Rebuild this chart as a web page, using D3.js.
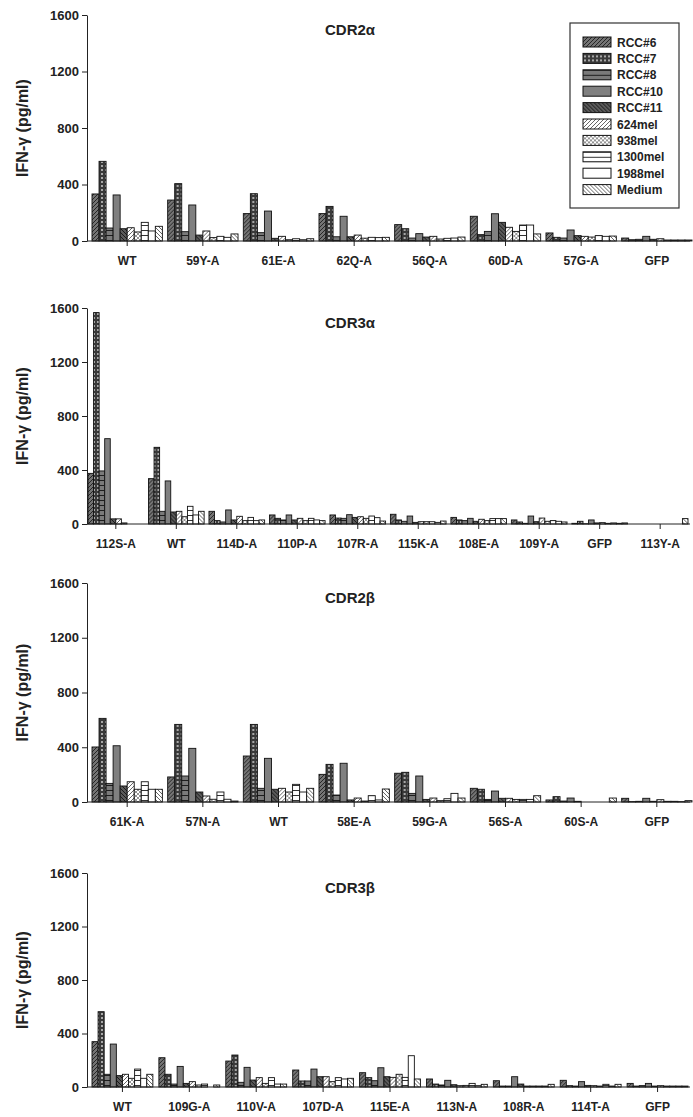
<!DOCTYPE html>
<html>
<head>
<meta charset="utf-8">
<script src="https://cdn.jsdelivr.net/npm/d3@7"></script>
<style>
  body { margin: 0; background: #fff; }
  text { font-family: Arial, "Liberation Sans", sans-serif; fill: #222; }
</style>
</head>
<body>
<div id="chart"></div>
<script>
// cell lines (series), same order in every group
const cellLines = ["RCC#6", "RCC#7", "RCC#8", "RCC#10", "RCC#11", "624mel", "938mel", "1300mel", "1988mel", "Medium"]
const yTicks = [0, 400, 800, 1200, 1600]

// CDR2α
const cdr2aCats = ["WT", "59Y-A", "61E-A", "62Q-A", "56Q-A", "60D-A", "57G-A", "GFP"]
const cdr2aValues = [
  [333, 564, 92, 326, 87, 94, 64, 132, 71, 104],
  [290, 406, 66, 255, 42, 71, 24, 33, 26, 50],
  [194, 335, 59, 212, 19, 33, 9, 16, 9, 16],
  [194, 245, 30, 175, 30, 42, 20, 26, 24, 26],
  [116, 87, 21, 52, 28, 33, 14, 19, 21, 28],
  [175, 45, 68, 193, 132, 97, 68, 113, 113, 50],
  [57, 26, 21, 78, 38, 33, 28, 38, 33, 35],
  [21, 9, 12, 33, 12, 16, 7, 7, 7, 7]
]

// CDR3α
const cdr3aCats = ["112S-A", "WT", "114D-A", "110P-A", "107R-A", "115K-A", "108E-A", "109Y-A", "GFP", "113Y-A"]
const cdr3aValues = [
  [375, 1566, 393, 632, 38, 38, 8, 0, 0, 0],
  [336, 568, 94, 319, 89, 94, 54, 131, 67, 94],
  [94, 25, 15, 104, 30, 57, 25, 49, 25, 30],
  [67, 42, 30, 67, 30, 42, 25, 42, 30, 25],
  [67, 44, 42, 69, 49, 54, 42, 59, 47, 22],
  [72, 30, 20, 59, 12, 17, 17, 17, 12, 22],
  [49, 30, 25, 42, 20, 35, 25, 40, 40, 40],
  [30, 15, 5, 59, 17, 44, 20, 25, 20, 15],
  [5, 20, 2, 30, 8, 10, 5, 8, 5, 8],
  [0, 0, 0, 0, 0, 0, 0, 0, 0, 40]
]

// CDR2β
const cdr2bCats = ["61K-A", "57N-A", "WT", "58E-A", "59G-A", "56S-A", "60S-A", "GFP"]
const cdr2bValues = [
  [402, 611, 136, 411, 117, 148, 93, 148, 93, 93],
  [183, 567, 190, 392, 73, 44, 20, 73, 20, 7],
  [336, 567, 100, 319, 93, 100, 73, 129, 73, 100],
  [202, 275, 51, 283, 15, 29, 7, 46, 15, 95],
  [210, 217, 63, 190, 19, 29, 10, 24, 63, 29],
  [100, 93, 19, 80, 27, 27, 19, 19, 19, 46],
  [15, 39, 7, 29, 5, 0, 0, 0, 0, 29],
  [27, 3, 5, 27, 5, 17, 5, 5, 3, 10]
]

// CDR3β
const cdr3bCats = ["WT", "109G-A", "110V-A", "107D-A", "115E-A", "113N-A", "108R-A", "114T-A", "GFP"]
const cdr3bValues = [
  [339, 563, 95, 321, 85, 95, 65, 134, 65, 95],
  [219, 95, 22, 154, 27, 40, 15, 22, 0, 15],
  [194, 239, 35, 147, 52, 70, 27, 70, 22, 22],
  [127, 45, 45, 134, 77, 77, 40, 70, 60, 65],
  [107, 70, 47, 144, 77, 72, 95, 72, 234, 60],
  [60, 22, 15, 50, 17, 10, 12, 27, 10, 20],
  [47, 7, 7, 77, 22, 7, 7, 7, 7, 20],
  [50, 10, 7, 40, 12, 10, 7, 20, 7, 20],
  [27, 7, 10, 27, 7, 10, 7, 7, 7, 7]
]

const WIDTH = 693, HEIGHT = 1117
const AXIS_LEFT = 87, AXIS_RIGHT = 690

const panels = [
  { title: "CDR2α", cats: cdr2aCats, values: cdr2aValues, top: 15, bottom: 241, range: [92, 692], pad: 0.07 },
  { title: "CDR3α", cats: cdr3aCats, values: cdr3aValues, top: 308, bottom: 524, range: [88, 688], pad: 0.08 },
  { title: "CDR2β", cats: cdr2bCats, values: cdr2bValues, top: 583, bottom: 802, range: [92, 692], pad: 0.07 },
  { title: "CDR3β", cats: cdr3bCats, values: cdr3bValues, top: 873, bottom: 1087, range: [92, 688], pad: 0.09 }
]

const svg = d3.select("#chart")
  .append("svg")
    .attr("width", WIDTH)
    .attr("height", HEIGHT)

// fill patterns, one per cell line
const defs = svg.append("defs")
function pattern(id, w, h, bg) {
  const p = defs.append("pattern")
    .attr("id", id)
    .attr("patternUnits", "userSpaceOnUse")
    .attr("width", w)
    .attr("height", h)
  p.append("rect").attr("width", w).attr("height", h).attr("fill", bg)
  return p
}
const fwd = "M-1,1 L1,-1 M0,4 L4,0 M3,5 L5,3"
const back = "M-1,3 L1,5 M0,0 L4,4 M3,-1 L5,1"

pattern("p0", 4, 4, "#747474").append("path").attr("d", fwd).attr("stroke", "#262626").attr("stroke-width", 1)
const p1 = pattern("p1", 4, 4, "#3a3a3a")
p1.append("rect").attr("x", 1).attr("y", 1).attr("width", 2).attr("height", 2).attr("fill", "#a8a8a8")
pattern("p2", 4, 5, "#7a7a7a").append("path").attr("d", "M0,0.5 L4,0.5").attr("stroke", "#1e1e1e").attr("stroke-width", 1)
pattern("p3", 4, 4, "#808080")
pattern("p4", 4, 4, "#5a5a5a").append("path").attr("d", back).attr("stroke", "#1a1a1a").attr("stroke-width", 1)
pattern("p5", 4, 4, "#ffffff").append("path").attr("d", fwd).attr("stroke", "#555").attr("stroke-width", 0.9)
const p6 = pattern("p6", 4, 4, "#ffffff")
p6.append("path").attr("d", fwd).attr("stroke", "#777").attr("stroke-width", 0.8)
p6.append("path").attr("d", back).attr("stroke", "#777").attr("stroke-width", 0.8)
pattern("p7", 4, 5, "#ffffff").append("path").attr("d", "M0,0.5 L4,0.5").attr("stroke", "#333").attr("stroke-width", 1)
pattern("p8", 4, 4, "#ffffff")
pattern("p9", 4, 4, "#ffffff").append("path").attr("d", back).attr("stroke", "#555").attr("stroke-width", 0.9)

const fillFor = i => `url(#p${i})`

panels.forEach(panel => {
  const g = svg.append("g")

  const y = d3.scaleLinear()
    .domain([0, 1600])
    .range([panel.bottom, panel.top])

  const x0 = d3.scaleBand()
    .domain(panel.cats)
    .range(panel.range)
    .paddingInner(panel.pad)
    .paddingOuter(0)

  const x1 = d3.scaleBand()
    .domain(cellLines)
    .range([0, x0.bandwidth()])

  // bars
  const groups = g.selectAll("g.group")
    .data(panel.cats.map((c, i) => ({ cat: c, vals: panel.values[i] })))
    .enter()
    .append("g")
      .attr("class", "group")
      .attr("transform", d => `translate(${x0(d.cat)},0)`)

  groups.selectAll("rect")
    .data(d => d.vals.map((v, i) => ({ line: cellLines[i], i, v })))
    .enter()
    .append("rect")
      .attr("x", d => x1(d.line))
      .attr("y", d => y(d.v))
      .attr("width", x1.bandwidth())
      .attr("height", d => y(0) - y(d.v))
      .attr("fill", d => fillFor(d.i))
      .attr("stroke", "#111")
      .attr("stroke-width", 0.9)

  // y axis
  const yAxisCall = d3.axisLeft(y)
    .tickValues(yTicks)
    .tickFormat(d3.format("d"))
    .tickSize(5)
    .tickSizeOuter(0)
    .tickPadding(3)
  const yAxis = g.append("g")
    .attr("transform", `translate(${AXIS_LEFT},0)`)
    .call(yAxisCall)
  yAxis.selectAll("text")
    .attr("font-size", 13)
    .attr("font-weight", "bold")
    .attr("fill", "#333")
  yAxis.selectAll("line, path").attr("stroke", "#222")

  // x axis
  const xAxisCall = d3.axisBottom(x0).tickSize(5).tickSizeOuter(0).tickPadding(10)
  const xAxis = g.append("g")
    .attr("transform", `translate(0,${panel.bottom})`)
    .call(xAxisCall)
  xAxis.select(".domain").remove()
  xAxis.append("line")
    .attr("x1", AXIS_LEFT)
    .attr("x2", AXIS_RIGHT)
    .attr("stroke", "#222")
  xAxis.selectAll("line").attr("stroke", "#222")
  xAxis.selectAll("text")
    .attr("font-size", 12)
    .attr("font-weight", "bold")
    .attr("fill", "#333")

  // title
  g.append("text")
    .attr("x", 350)
    .attr("y", panel.top + 20)
    .attr("text-anchor", "middle")
    .attr("font-size", 15)
    .attr("font-weight", "bold")
    .text(panel.title)

  // y label
  g.append("text")
    .attr("transform", `translate(28,${(panel.top + panel.bottom) / 2}) rotate(-90)`)
    .attr("text-anchor", "middle")
    .attr("font-size", 16)
    .attr("font-weight", "bold")
    .text("IFN-γ (pg/ml)")
})

// legend (top panel)
const legend = svg.append("g")
legend.append("rect")
  .attr("x", 570)
  .attr("y", 23)
  .attr("width", 109)
  .attr("height", 185)
  .attr("fill", "#fff")
  .attr("stroke", "#333")
  .attr("stroke-width", 1.2)

const rows = legend.selectAll("g.row")
  .data(cellLines)
  .enter()
  .append("g")
    .attr("class", "row")
    .attr("transform", (d, i) => `translate(583,${42 + i * 16.4})`)

rows.append("rect")
  .attr("x", 0)
  .attr("y", -5)
  .attr("width", 28)
  .attr("height", 10)
  .attr("fill", (d, i) => fillFor(i))
  .attr("stroke", "#111")
  .attr("stroke-width", 1)

rows.append("text")
  .attr("x", 34)
  .attr("y", 4.5)
  .attr("font-size", 12)
  .attr("font-weight", "bold")
  .attr("fill", "#333")
  .text(d => d)
</script>
</body>
</html>
